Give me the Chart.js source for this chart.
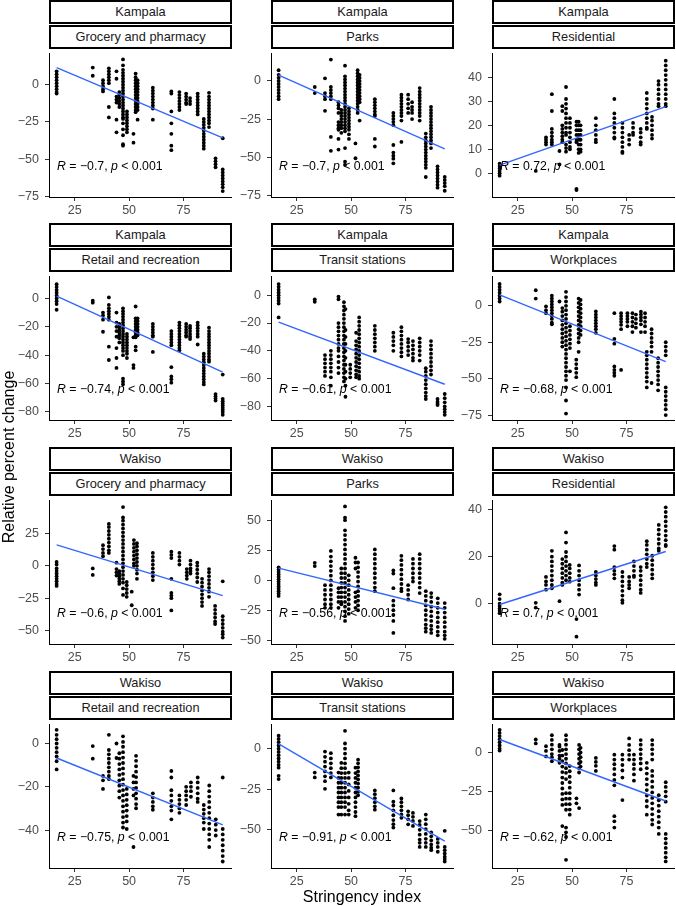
<!DOCTYPE html>
<html>
<head>
<meta charset="utf-8">
<script src="https://cdn.jsdelivr.net/npm/chart.js@4.4.0/dist/chart.umd.min.js"></script>
<style>
  body { margin: 0; background: #fff; }
  #wrap { position: relative; width: 676px; height: 906px; overflow: hidden; font-family: "Liberation Sans", Arial, sans-serif; }
  .strip { position: absolute; box-sizing: border-box; border: 2px solid #000; background: #fff; color: #1a1a1a; font-size: 12.8px; text-align: center; }
  canvas { position: absolute; }
  .title { position: absolute; font-size: 16px; color: #000; text-align: center; white-space: nowrap; }
</style>
</head>
<body>
<div id="wrap"></div>
<script>
// facet labels
const cities = ['Kampala', 'Kampala', 'Kampala', 'Kampala', 'Kampala', 'Kampala',
                'Wakiso', 'Wakiso', 'Wakiso', 'Wakiso', 'Wakiso', 'Wakiso'];
const categories = ['Grocery and pharmacy', 'Parks', 'Residential', 'Retail and recreation', 'Transit stations', 'Workplaces',
                    'Grocery and pharmacy', 'Parks', 'Residential', 'Retail and recreation', 'Transit stations', 'Workplaces'];

// correlation labels
const rLabels = ['−0.7', '−0.7', '0.72', '−0.74', '−0.61', '−0.68', '−0.6', '−0.56', '0.7', '−0.75', '−0.91', '−0.62'];
const pLabel = '< 0.001';

// axes
const xTicks = [25, 50, 75];
const xLimits = [13.2, 96.8];
const yLimits = [[-75.5, 21.3], [-76.1, 18.3], [-9.9, 50.2], [-85.7, 15.8], [-89.7, 13.8], [-78.4, 20.5],
                 [-60.5, 51], [-53.3, 67.4], [-17.1, 44.1], [-57.5, 9], [-73.5, 15.2], [-73.8, 18.2]];
const yTicks = [[-75, -50, -25, 0], [-75, -50, -25, 0], [0, 10, 20, 30, 40], [-80, -60, -40, -20, 0], [-80, -60, -40, -20, 0], [-75, -50, -25, 0],
                [-50, -25, 0, 25], [-50, -25, 0, 25, 50], [0, 20, 40], [-40, -20, 0], [-50, -25, 0], [-50, -25, 0]];

// fitted line ends (stringency 16.7 and 93)
const fitX = [16.7, 93];
const fitY = [[11.4, -35.8], [3.8, -44.6], [3.4, 27.8], [1.6, -51.9], [-19.3, -64], [7.5, -38.3],
              [16.25, -23], [10.3, -24.2], [-0.3, 22.2], [-6.7, -37.6], [3, -57], [8.3, -31]];

// points: [stringency, [relative percent change...]]
const kampalaGrocery = [
  [16.7, [9, 7, 5, 3, 1, -1, -3, -5, -6]],
  [33.3, [11.5, 6]],
  [38, [3, 1, -1, -3, -4.5]],
  [40.7, [11, 9, 7, 5, 3, 1, -15, -22]],
  [44.2, [9, 4, -8, -10, -12, -23.5, -32]],
  [45.5, [-5, -7, -9, -11, -13, -15]],
  [47.2, [17, 13, 10, 8, 6, 4, 2, 0, -2, -4, -6, -8, -10, -12, -14, -16, -18, -20, -22, -23, -26, -30, -34, -40, -41]],
  [49, [-18, -20, -22, -24, -26, -28, -30, -32]],
  [52, [-33, -39]],
  [53, [7.5, 5, 3, 1, -1, -3, -5, -7, -9, -11, -13, -15, -17, -18.5]],
  [53.9, [3, 1, -1, -3, -5, -7, -9, -11, -13, -15, -17, -23.5]],
  [60.9, [-2, -4, -6, -8, -10, -12, -14, -16, -23.5]],
  [69.4, [-4.5, -6, -18, -26, -33, -41, -44]],
  [73.1, [-5, -7, -9, -11, -13, -15, -17]],
  [76.2, [-6, -8, -10, -12, -13]],
  [78, [-9, -11, -13]],
  [81.5, [-6, -8, -10, -12, -14, -16, -18, -20]],
  [84.3, [-23, -25, -27, -29, -31, -33, -35, -37, -39, -41, -43]],
  [86.7, [-5.5, -8, -10, -12, -14, -16, -18, -20, -22, -24, -26, -28.5]],
  [89.7, [-49.5, -51.5, -53.5, -55.5]],
  [93, [-36, -57, -59, -61, -63, -65, -67, -69, -71.5]]
];
const kampalaParks = [
  [16.7, [7, 4, 2, 0, -2, -4, -6, -8, -10, -12]],
  [33.3, [-4, -8]],
  [38, [1.7, -8, -10, -12, -19.6]],
  [40.7, [14, -4, -6, -8, -10, -12, -36.7, -45.8]],
  [44.2, [-14, -16, -18, -21, -27, -29, -31, -32, -38, -45]],
  [45.5, [-19, -21, -23, -25, -27, -29, -31, -34]],
  [47.2, [10, 3, 1, -1, -3, -5, -7, -9, -11, -13, -15, -17, -19, -21, -23, -25, -27, -29, -31, -33, -44, -53, -55]],
  [49, [-18, -20, -22, -24, -26, -28, -30, -32, -35, -38]],
  [52, [-41, -50.7]],
  [53, [7, 5, 3, 1, -1, -3, -5, -7, -9, -11, -13, -15, -17, -19, -21]],
  [53.9, [4, 2, 0, -2, -4, -6, -8, -10, -12, -14, -26]],
  [60.9, [-12, -14, -16, -18, -20, -22, -23, -38, -43]],
  [69.4, [-21, -23, -25, -27, -29, -42, -47, -49, -51, -54]],
  [73.1, [-9, -11, -13, -15, -17, -19, -21, -23, -26, -40]],
  [76.2, [-9, -12, -15, -18, -21]],
  [78, [-14, -17, -19, -21, -25]],
  [81.5, [-4.7, -7, -9, -11, -13, -15, -17, -19, -21, -23, -26]],
  [84.3, [-34.5, -37, -39, -41, -43, -45, -47, -49, -51, -53, -55, -57, -63]],
  [86.7, [-17, -19, -21, -23, -25, -27, -29, -31, -33, -35, -37, -39, -41, -44]],
  [89.7, [-56, -58, -60, -62, -64, -66, -68, -70]],
  [93, [-63, -65, -67, -69, -72]]
];
const kampalaResidential = [
  [16.7, [4, 3, 2, 1, 0, -1]],
  [33.3, [1]],
  [38, [15, 14, 13, 12]],
  [40.7, [33, 26, 18.5, 17, 15.5, 14, 13, 12]],
  [44.2, [9.3, 3.7]],
  [45.5, [28, 26, 20, 18.5, 17, 15.5, 14, 13]],
  [47.2, [36, 31, 29, 27, 25, 23, 21, 19, 17, 16, 12, 10.5, 9]],
  [49, [23, 21, 19, 17, 15, 13, 11, 10]],
  [52, [21.5, 20, 18, 16, 14, 13, -6.5, -7]],
  [53, [21.5, 20, 18, 16, 14, 12, 10, 8.5]],
  [53.9, [20, 18, 16, 14, 12, 10, 9]],
  [60.9, [23, 20, 18, 16, 14, 13]],
  [69.4, [31, 25, 23, 21, 19, 17, 15, 14.5]],
  [73.1, [21, 19, 17, 15, 13, 11, 9, 8.5]],
  [76.2, [16, 14, 12]],
  [78, [21, 19, 17, 16]],
  [81.5, [18.5, 17, 15, 13, 12]],
  [84.3, [33.5, 31, 29, 27, 25, 23, 21, 19, 18.5]],
  [86.7, [23.5, 22, 20, 18, 16, 14.5]],
  [89.7, [38.5, 37, 35, 33, 31, 29, 28]],
  [93, [47, 45, 43, 41, 39, 37, 35, 33, 31, 29, 28]]
];
const kampalaRetail = [
  [16.7, [10, 8, 6, 4, 2, 0, -2, -4, -8]],
  [33.3, [-1.6, -3]],
  [38, [-10, -12, -15, -23.5]],
  [40.7, [0.7, -4.6, -7, -9, -11, -13, -15, -34, -43.4]],
  [44.2, [-10, -17, -20, -23, -27, -35, -42, -49]],
  [45.5, [-18, -20, -22, -24, -26, -28, -31]],
  [47.2, [-7, -9, -11, -13, -15, -17, -19, -21, -23, -25, -27, -29, -31, -33, -35, -37, -40, -56.5, -58.5, -60.5]],
  [49, [-25, -27, -29, -31, -33, -35, -37, -39, -42]],
  [52, [-27.4, -47, -49]],
  [53, [-5.7, -14, -16, -18, -20, -22, -24, -26, -27.4, -34, -36.6]],
  [53.9, [-14, -16, -18, -20, -22, -24, -26]],
  [60.9, [-18, -20, -22, -24, -26, -27, -37.7]],
  [69.4, [-23, -25, -27, -29, -31, -33, -48.5, -55, -57, -59.4]],
  [73.1, [-17, -19, -21, -23, -25, -27, -29, -31, -33, -35, -36.6]],
  [76.2, [-18, -20, -22, -24, -26, -27]],
  [78, [-19.4, -21, -23, -25, -27, -28.6]],
  [81.5, [-17, -19, -21, -23, -25, -27, -32.5]],
  [84.3, [-39, -41, -43, -45, -47, -49, -51, -53, -55, -57, -59, -60.6]],
  [86.7, [-20.6, -23, -25, -27, -29, -31, -33, -35, -37, -39, -41, -43, -44.6]],
  [89.7, [-67.4, -69, -70.5, -72]],
  [93, [-53.7, -70.8, -72.5, -74, -75.5, -77, -78.5, -80, -82]]
];
const kampalaTransit = [
  [16.7, [8, 6, 4, 2, 0, -2, -4, -6, -16]],
  [33.3, [-3, -4.7]],
  [38, [-43, -46, -49, -52, -55, -58]],
  [40.7, [-40, -43, -46, -49, -52, -55, -59, -65]],
  [44.2, [-1, -3, -20, -23, -26, -29, -32, -35, -38, -40, -44, -48, -52, -56]],
  [46.7, [-5, -8, -11, -14, -17, -20, -23, -26, -29, -32, -35, -38, -41, -44, -47, -50, -53, -56, -59, -62]],
  [47.4, [-10, -25, -30, -35, -40, -45, -50, -55, -60, -65, -73]],
  [49.6, [-50, -53, -56, -59]],
  [52.3, [-27, -33, -36, -39, -42, -45, -48, -51, -54, -57, -59]],
  [53.7, [-16, -19, -22, -25, -28, -31, -34, -37, -40, -43, -46, -49, -52, -55, -58, -60]],
  [60.9, [-22, -25, -28, -31, -34, -37, -40]],
  [69.4, [-27, -30, -33, -36, -40]],
  [73.1, [-23, -26, -29, -32, -35, -38, -41, -44]],
  [76.2, [-31.5, -34, -37, -40, -43]],
  [78.4, [-33, -36, -39, -42, -45, -47]],
  [81.5, [-31, -34, -37, -40, -43, -47]],
  [84.3, [-52.5, -55, -58, -61, -64, -67, -70, -72.5, -74.6]],
  [86.7, [-33, -36, -39, -42, -45, -48, -51, -54, -57]],
  [89.7, [-74.6, -76.5, -78, -79]],
  [93, [-71, -74, -77, -80, -82, -84, -86]]
];
const kampalaWorkplaces = [
  [16.7, [15, 13, 11, 9, 7, 5, 3]],
  [33.3, [10.7, 5]],
  [38, [-0.4, -3, -5]],
  [40.7, [7, 5, 3, 1, -1, -3, -5, -7, -9, -11.6, -12.7]],
  [44.2, [3]],
  [45.5, [-1.5, -4, -7, -10, -13, -16, -19, -22, -25, -28]],
  [47.2, [9.6, 6, 3, 0, -3, -6, -9, -12, -15, -18, -21, -24, -27, -30, -33, -36, -39, -42, -45, -48, -51, -56, -65, -74]],
  [49, [-14, -17, -20, -23, -26, -29, -45]],
  [51.9, [-37, -40, -43, -46, -49]],
  [53, [5, 2, -1, -4, -7, -10, -13, -16, -19, -22, -25, -31.6]],
  [53.9, [4, 1, -2, -5, -8, -11, -14, -17, -20]],
  [60.9, [-3.8, -6, -8, -10, -12, -14, -16, -18.5]],
  [69.4, [-5, -22.7, -26, -41.6, -44, -46, -48]],
  [72.5, [-5, -7, -9, -11, -13, -16, -44]],
  [75.4, [-5, -7, -9, -11, -14]],
  [77.7, [-5, -8, -11, -14, -18]],
  [79.3, [-6, -9, -12, -15]],
  [81.6, [-4, -6, -8, -10, -12.7, -18]],
  [83.5, [-5, -8, -11, -14, -18]],
  [84.3, [-31.6, -34, -37, -40, -43, -46, -49, -52, -56]],
  [86.5, [-16, -19, -22, -25, -28, -31.6, -53]],
  [89.5, [-36, -39, -42, -45, -48, -51, -54, -58]],
  [93, [-25, -28, -31, -34, -56, -59, -62, -65, -68, -71, -75]]
];
const wakisoGrocery = [
  [16.7, [3, 1, -2, -4, -6, -8, -10, -12, -14, -15.5]],
  [33.3, [-2, -7]],
  [38, [16, 13, 10, 7.5]],
  [40.7, [32.5, 30, 27, 24, 21, 18, 15, 12, 10]],
  [44.2, [2.5, -2.5, -5, -7.5]],
  [45.5, [-4, -6, -8, -10, -12, -14]],
  [47.2, [45.5, 37.5, 35, 32, 29, 26, 23, 20, 17, 14, 11, 8, 5, 2, -1, -4, -7, -10, -13, -17.5, -22.5]],
  [48.9, [-12.5, -15, -18, -21, -24]],
  [51.2, [-20, -30.5]],
  [52.2, [20, 17, 14, 11, 8, 5, 2, 0]],
  [53.6, [17.5, 15, 12, 9, 6, 3, 0, -3, -6, -10]],
  [60.9, [10, 7, 4, 1, -2, -5, -8, -11]],
  [69.4, [11, 8.5, 6, -10, -21, -23, -25, -34.5]],
  [73.1, [10, 7, 4, 1]],
  [76.5, [-2.5, -5, -7.5, -10]],
  [78.2, [4, 1, -2, -4, -6]],
  [81.3, [2.5, 0, -3, -6, -9, -12.5]],
  [83.5, [-10, -13, -16, -19, -22, -25, -28, -31]],
  [86.7, [-2.5, -5, -8, -11, -14, -17, -20, -24]],
  [89.5, [-31, -34, -37, -40, -43, -45]],
  [93, [-12, -39, -42, -45, -48, -51, -53, -55.5]]
];
const wakisoParks = [
  [16.7, [11, 9, 7, 5, 3, 1, -1, -3, -5, -7, -9, -11, -13]],
  [33.3, [14.7, 12]],
  [38, [-4, -8, -12, -16, -20, -23]],
  [40.7, [24.7, 20, 16, 12, 8, 4, 0, -4, -8, -12, -16, -20, -23]],
  [44.2, [-6.5, -10, -14, -18, -23]],
  [45.5, [10, 6, 2, -2, -6, -10, -14, -18, -20]],
  [47.2, [62, 52.7, 50.5, 42, 38, 34, 30, 26, 22, 18, 14, 10, 6, 2, -2, -6, -10, -14, -18, -22, -26, -30, -34]],
  [48.9, [4.3, 0, -4, -8, -12, -16, -20, -24, -28]],
  [52, [19, 15, 10, -10, -14, -18, -23]],
  [53.2, [15, 11, 7, 3, -1, -5, -9, -13, -17, -21, -25]],
  [60.9, [26, 22, 18, 14, 10, 6, 2, -2, -6, -9]],
  [69.4, [8.4, 5.7, -6.5, -17, -21, -25, -29, -34, -44]],
  [73.1, [20.6, 17, 13, 9, 5, 1, -3, -7, -9]],
  [76.2, [-4, -8, -12, -16]],
  [78.4, [18, 14, 10, 6, 2, -1]],
  [81.5, [22, 18, 14, 10, 6, 2, -2, -6, -10.6]],
  [84.3, [-9, -13, -17, -21, -25, -29, -33, -37, -40, -43]],
  [86.8, [-10.6, -14, -18, -22, -26, -30, -34, -38, -41, -44]],
  [89.8, [-15, -19, -23, -27, -31, -35, -39, -43, -46]],
  [93, [-19, -23, -27, -31, -35, -39, -43, -46, -49]]
];
const wakisoResidential = [
  [16.7, [4, 2, 0, -1, -2, -3, -4]],
  [33.3, [0.4, -1.6]],
  [38, [11.4, 9.5, 8, 6]],
  [40.7, [22.5, 20, 18, 16, 14, 12, 10, 8, 6.6]],
  [44.2, [1.1]],
  [45.5, [19, 17, 15, 13, 11, 9, 8]],
  [47.2, [30.3, 26, 22, 20, 18, 16, 14, 12, 10]],
  [48.9, [16.5, 15, 13, 11, 9.4]],
  [52, [-6.5, -14]],
  [53.2, [16.3, 14, 12, 10, 8, 6, 3.9]],
  [60.9, [13.5, 12, 10.5, 9, 8]],
  [69.4, [24.5, 23, 15.6, 14, 12.5, 10.8]],
  [73.1, [13.5, 11.5, 9.5, 7.5, 5.5, 3.5, 1.5, 0.4]],
  [76.2, [11.4, 9.5, 8, 6.6]],
  [78.4, [18, 16, 14, 12, 11.4]],
  [81.5, [15.6, 14, 12, 10, 8, 6, 4.6]],
  [84.3, [26.6, 25, 23, 21, 19, 17, 15.6]],
  [86.8, [20.4, 18.5, 16.5, 14.5, 12.5, 10.8]],
  [89.8, [33.5, 31.5, 29.5, 27.5, 25.5, 23.5, 22.5]],
  [93, [41, 39, 37, 35, 33, 31, 29, 27, 25, 24.5]]
];
const wakisoRetail = [
  [16.7, [6.3, 4, 2, 0, -2, -4, -6, -8.2, -12]],
  [33.3, [-1.2, -7]],
  [38, [-15, -17, -21]],
  [40.7, [4, -3, -5, -7, -9, -11, -13, -15, -16.4]],
  [44.2, [0, -6.7]],
  [45.5, [-4.5, -7, -9.5, -12, -14.5, -17, -19.5, -22, -25]],
  [47.2, [3.3, 0.7, -1.5, -4, -6.5, -9, -11.5, -14, -16.5, -19, -21.5, -24, -26.5, -29, -31.5, -34, -36.5, -38.8]],
  [48.9, [-21, -23.5, -26, -28.5, -31, -33.5, -36, -39.5]],
  [52, [-15, -18, -21, -24, -47.8]],
  [53.2, [-5.7, -8, -10.5, -13, -15.5, -18, -20.5, -23, -25.5, -28, -29.9]],
  [60.9, [-23, -25, -27, -29, -30.6]],
  [69.4, [-12.7, -15.7, -21.6, -24, -26.5, -29, -31, -35]],
  [73.1, [-24, -26, -28, -30, -32]],
  [76.2, [-20, -22, -24, -26, -28.4]],
  [78.4, [-18, -20, -22, -24.6]],
  [81.5, [-15.7, -18, -20.5, -23, -25.5, -27]],
  [84.3, [-28.4, -30.5, -32.5, -34.5, -36.5, -39.5]],
  [86.8, [-19.4, -22, -24.5, -27, -29.5, -32, -34.5, -37, -39.5, -42, -44.5, -47.8]],
  [89.8, [-35, -37.5, -40, -42.5]],
  [93, [-15.7, -39.5, -42, -44.5, -47, -49.5, -52, -54.5]]
];
const wakisoTransit = [
  [16.7, [8, 6, 4, 2, 0, -2, -4, -6, -8, -10, -11.7, -16.7, -18.7]],
  [33.3, [-14.7, -17.7]],
  [38, [-1.8, -5, -8, -11, -14, -17, -20, -24.7]],
  [40.7, [-2.8, -6, -9, -12, -15, -17.7]],
  [44.2, [-14.7, -18, -21, -24, -27, -30, -33, -36, -40.6]],
  [45.5, [-8.8, -12, -15, -18, -21, -24, -27, -30, -33, -36, -40.6]],
  [47.2, [11, 3.2, 0, -3, -6, -9, -12, -15, -18, -21, -24, -27, -30, -33, -36, -40.6]],
  [48.9, [-14.7, -18, -22, -26, -30, -34, -38, -40.6]],
  [52, [-11.7, -15, -18, -21, -24, -27, -30, -33, -36, -39, -41.6]],
  [53.2, [-6.8, -9, -11.5, -14, -16.5, -19, -21.5, -24, -26.5, -28.7]],
  [60.9, [-25.7, -28, -30.5, -33, -35.5, -37.6]],
  [69.4, [-25.7, -32.7, -35, -38, -41, -44, -46.5, -48.6]],
  [73.1, [-30.7, -33, -35.5, -38, -40.5, -42.6]],
  [76.2, [-38.6, -41, -43.5, -46.6]],
  [78.4, [-39.6, -42, -44.5, -47.6]],
  [81.5, [-44.6, -47, -50, -53, -56, -58, -60.5]],
  [84.3, [-40.6, -43.5, -46.5, -49.5, -52.5, -55.5, -58, -60.5]],
  [86.8, [-51.6, -54, -56.5, -59, -61, -62.5]],
  [89.8, [-55.6, -58, -60.5, -63.5]],
  [93, [-50.6, -60.5, -62.5, -64.5, -66.5, -68, -69.5]]
];
const wakisoWorkplaces = [
  [16.7, [14.5, 12.5, 10.5, 8.5, 6.5, 4.5, 2.5, 1.2]],
  [33.3, [8.3, 5.8]],
  [38, [4, 1, -2.5]],
  [40.7, [11, 8, 5, 2, -1, -3, -5.6]],
  [44.2, [4.8, 3.7, 1, -2, -4, -6.6]],
  [45.5, [1.6, -2, -5.5, -9, -12.5, -16, -19.5, -23, -26.5, -30, -33.5, -47]],
  [47.2, [11, 8, 5, 2, -1, -4, -7, -10, -13, -17, -26, -29.5, -33, -36.6, -48, -51, -54, -68.6]],
  [48.9, [-8.7, -12, -15.5, -19, -22.5, -26, -29.5, -33, -36.5, -39.7]],
  [52, [-29.3, -32.5]],
  [53.2, [4.8, 2, -1, -4, -7, -10, -12.8, -35.5]],
  [53.9, [3, 0, -3, -6, -9]],
  [60.9, [-3.5, -6, -8.5, -11.8]],
  [69.4, [-1.4, -4.5, -7.5, -10.5, -14, -17.5, -21, -40.7, -44, -48]],
  [73.1, [-1.4, -4.5, -8, -11.5, -16, -30.4]],
  [76.2, [9, 4.8, 1.5, -1.5, -4.5]],
  [78.4, [-1.4, -4.5, -7.5, -10.5, -14, -18]],
  [81.5, [7.9, 5, 2, -1, -4, -7, -10.7]],
  [84.3, [-6.6, -10, -13.5, -17, -20.5, -24, -27.5, -31, -34.5, -39.7]],
  [86.8, [7.9, 5, 2, -1, -4.5, -11.8, -15, -18.5, -22, -25.5, -29, -32.5, -36, -39.5, -43, -46]],
  [89.8, [-27.3, -30.5, -34, -37.5, -41, -44.5, -48, -52]],
  [93, [-19, -22, -25, -28, -31.4, -52, -55, -58, -61, -64, -67, -69.6]]
];

const panels = [kampalaGrocery, kampalaParks, kampalaResidential, kampalaRetail, kampalaTransit, kampalaWorkplaces,
                wakisoGrocery, wakisoParks, wakisoResidential, wakisoRetail, wakisoTransit, wakisoWorkplaces];

// layout
const colLeft = [49, 271, 492];
const rowTop = [0, 223, 447, 671];
const plotW = 183, plotH = 148, stripH = 24, yAxisW = 45, xAxisH = 28, padRight = 3;
const FONT = '"Liberation Sans", Arial, sans-serif';

const wrap = document.getElementById('wrap');

const corLabel = {
  id: 'corLabel',
  afterDatasetsDraw(chart, args, opts) {
    const { ctx, chartArea: a } = chart;
    let x = a.left + 8;
    const y = a.top + a.height * 0.79;
    const parts = [['R', true], [' = ' + opts.r + ', ', false], ['p', true], [' ' + pLabel, false]];
    ctx.save();
    ctx.fillStyle = '#000';
    ctx.textBaseline = 'middle';
    parts.forEach(([t, it]) => {
      ctx.font = (it ? 'italic ' : '') + '12.3px ' + FONT;
      ctx.fillText(t, x, y);
      x += ctx.measureText(t).width;
    });
    ctx.restore();
  }
};

function toPoints(cols) {
  const pts = [];
  cols.forEach(([x, ys]) => ys.forEach(y => pts.push({ x: x, y: y })));
  return pts;
}

function addStrip(text, left, top) {
  const d = document.createElement('div');
  d.className = 'strip';
  d.style.left = left + 'px';
  d.style.top = top + 'px';
  d.style.width = plotW + 'px';
  d.style.height = stripH + 'px';
  d.style.lineHeight = (stripH - 4) + 'px';
  d.textContent = text;
  wrap.appendChild(d);
}

const axisStyle = {
  grid: { drawOnChartArea: false, drawTicks: true, tickLength: 4, color: '#333', lineWidth: 1 },
  border: { display: true, color: '#000', width: 1 },
};

panels.forEach((cols, i) => {
  const r = Math.floor(i / 3), c = i % 3;
  const left = colLeft[c], top = rowTop[r];
  addStrip(cities[i], left, top);
  addStrip(categories[i], left, top + stripH + 1);

  const cv = document.createElement('canvas');
  cv.width = yAxisW + plotW + padRight;
  cv.height = plotH + xAxisH;
  cv.style.left = (left - yAxisW) + 'px';
  cv.style.top = (top + 2 * stripH + 1) + 'px';
  wrap.appendChild(cv);

  new Chart(cv, {
    type: 'scatter',
    data: {
      datasets: [
        {
          type: 'line',
          data: fitX.map((x, k) => ({ x: x, y: fitY[i][k] })),
          borderColor: '#3366FF',
          borderWidth: 1.4,
          pointRadius: 0,
          fill: false
        },
        {
          data: toPoints(cols),
          backgroundColor: '#000',
          borderWidth: 0,
          pointRadius: 1.9
        }
      ]
    },
    options: {
      responsive: false,
      animation: false,
      events: [],
      layout: { padding: { left: 0, top: 0, bottom: 0, right: padRight } },
      plugins: { legend: { display: false }, tooltip: { enabled: false }, corLabel: { r: rLabels[i] } },
      scales: {
        x: {
          type: 'linear',
          min: xLimits[0],
          max: xLimits[1],
          ...axisStyle,
          ticks: { color: '#4d4d4d', padding: 2, font: { size: 12.5, family: FONT } },
          afterBuildTicks: s => { s.ticks = xTicks.map(v => ({ value: v })); },
          afterFit: s => { s.height = xAxisH; s.paddingLeft = 0; s.paddingRight = 0; }
        },
        y: {
          type: 'linear',
          min: yLimits[i][0],
          max: yLimits[i][1],
          ...axisStyle,
          ticks: {
            color: '#4d4d4d', padding: 6, font: { size: 12.5, family: FONT },
            callback: v => String(v).replace('-', '−')
          },
          afterBuildTicks: s => { s.ticks = yTicks[i].map(v => ({ value: v })); },
          afterFit: s => { s.width = yAxisW; s.paddingTop = 0; s.paddingBottom = 0; }
        }
      }
    },
    plugins: [corLabel]
  });
});

// axis titles
const xt = document.createElement('div');
xt.className = 'title';
xt.textContent = 'Stringency index';
xt.style.left = '212px';
xt.style.width = '300px';
xt.style.top = '887px';
xt.style.lineHeight = '20px';
wrap.appendChild(xt);

const yt = document.createElement('div');
yt.className = 'title';
yt.textContent = 'Relative percent change';
yt.style.left = (9 - 150) + 'px';
yt.style.top = (457 - 10) + 'px';
yt.style.width = '300px';
yt.style.lineHeight = '20px';
yt.style.transform = 'rotate(-90deg)';
wrap.appendChild(yt);
</script>
</body>
</html>
